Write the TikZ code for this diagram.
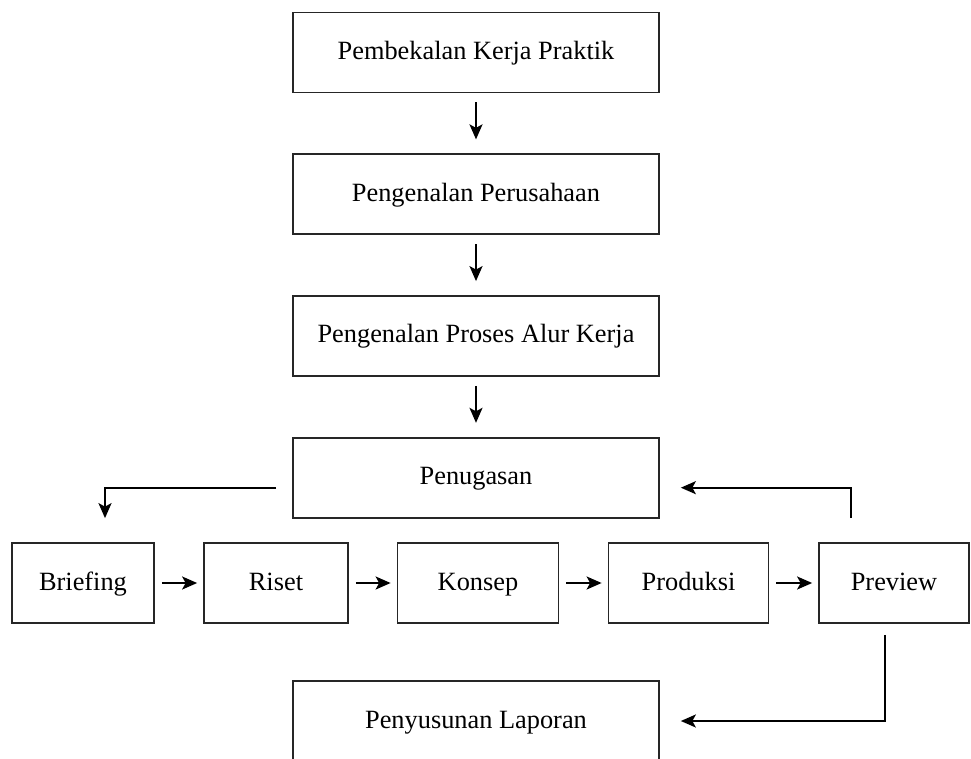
\documentclass[tikz,border=0pt]{standalone}
\usepackage{fontspec}
\setmainfont{Liberation Serif}
\usetikzlibrary{arrows.meta,positioning}

\begin{document}
\begin{tikzpicture}[
  x=0.02cm, y=-0.02cm,
  node distance=1.2cm,
  box/.style={draw=black!85, line width=1pt, fill=white, align=center,
    minimum width=7.32cm, minimum height=1.6cm, inner sep=0pt,
    text height=1em, text depth=0.2em,
    font=\fontsize{15}{18}\selectfont},
  kecil/.style={box, minimum width=2.84cm},
  arr/.style={-{Stealth[length=3mm, width=2.6mm, inset=0.7mm]}, draw=black, line width=1.1pt},
  varr/.style={arr, shorten <=0.18cm, shorten >=0.28cm},
  harr/.style={arr, shorten <=0.14cm, shorten >=0.12cm}
]
\useasboundingbox (0,0) rectangle (971,758);

% alur utama
\node[box] (bekal) at (476,52.5) {Pembekalan Kerja Praktik};
\node[box, below=of bekal] (kenal) {Pengenalan Perusahaan};
\node[box, below=of kenal] (alur) {Pengenalan Proses Alur Kerja};
\node[box, below=of alur] (tugas) {Penugasan};

% baris penugasan
\node[kecil] (brief) at (83,583) {Briefing};
\node[kecil, minimum width=2.88cm] (riset) at (276,583) {Riset};
\node[kecil, minimum width=3.22cm] (konsep) at (478,583) {Konsep};
\node[kecil, minimum width=3.2cm] (prod) at (688.5,583) {Produksi};
\node[kecil, minimum width=3.0cm] (prev) at (894,583) {Preview};

\node[box] (lapor) at (476,721) {Penyusunan Laporan};

\draw[varr] (bekal) -- (kenal);
\draw[varr] (kenal) -- (alur);
\draw[varr] (alur) -- (tugas);

\draw[harr] (brief) -- (riset);
\draw[harr] (riset) -- (konsep);
\draw[harr] (konsep) -- (prod);
\draw[harr] (prod) -- (prev);

\draw[arr] ([shift={(-16,10)}]tugas.west) -| ([shift={(22,-24)}]brief.north);
\draw[arr] ([shift={(-43,-24)}]prev.north) |- ([shift={(21,10)}]tugas.east);
\draw[arr] ([shift={(-9,11)}]prev.south) |- ([shift={(21,0)}]lapor.east);
\end{tikzpicture}
\end{document}
